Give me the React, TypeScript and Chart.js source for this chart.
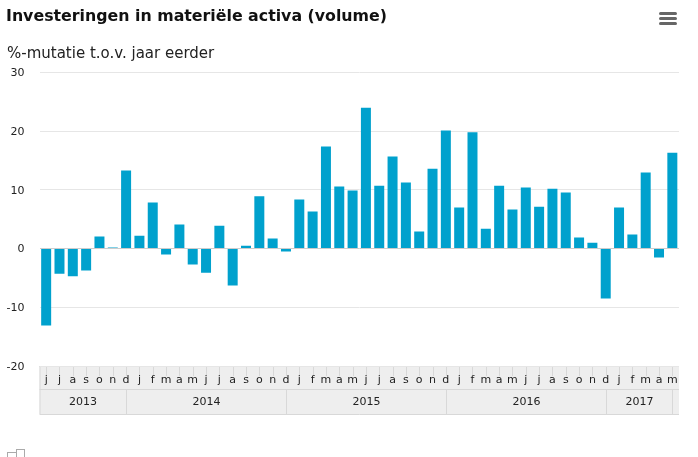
import React, { useEffect, useRef } from "react";
import { Chart, registerables } from "chart.js";

Chart.register(...registerables);

const monthLabels = [
  "j", "j", "a", "s", "o", "n", "d",
  "j", "f", "m", "a", "m", "j", "j", "a", "s", "o", "n", "d",
  "j", "f", "m", "a", "m", "j", "j", "a", "s", "o", "n", "d",
  "j", "f", "m", "a", "m", "j", "j", "a", "s", "o", "n", "d",
  "j", "f", "m", "a", "m",
];
const years = ["2013", "2014", "2015", "2016", "2017"];
const yearLengths = [7, 12, 12, 12, 5];
const mutation = [
  -13.1, -4.3, -4.7, -3.75, 2.05, 0.2, 13.3,
  2.2, 7.85, -1.0, 4.1, -2.7, -4.1, 3.9, -6.3, 0.5, 8.9, 1.7, -0.5,
  8.35, 6.3, 17.4, 10.6, 9.9, 24.0, 10.7, 15.7, 11.25, 2.9, 13.6, 20.1,
  7.0, 19.8, 3.4, 10.7, 6.65, 10.4, 7.15, 10.2, 9.55, 1.87, 1.0, -8.5,
  7.0, 2.4, 12.95, -1.5, 16.35,
];
const titleText = "Investeringen in materiële activa (volume)";
const subtitleText = "%-mutatie t.o.v. jaar eerder";

const BAND_LINE = "#d8d8d8";
const BAND_FILL = "#eeeeee";
const TEXT = "#222222";

const decor = {
  id: "decor",
  beforeDraw(chart: any) {
    const { ctx, chartArea, scales } = chart;
    const x = scales.x;
    const left = chartArea.left;
    const right = chartArea.right;
    const top = chartArea.bottom;
    const mid = top + 23;
    const bottom = top + 48;
    ctx.save();
    ctx.fillStyle = BAND_FILL;
    ctx.fillRect(left, top, right - left, bottom - top);
    ctx.strokeStyle = BAND_LINE;
    ctx.lineWidth = 1;
    ctx.beginPath();
    for (let i = 0; i < monthLabels.length; i++) {
      const px = Math.round(x.getPixelForValue(i)) + 0.5;
      ctx.moveTo(px, top);
      ctx.lineTo(px, top + 10);
    }
    ctx.moveTo(left, top + 0.5);
    ctx.lineTo(right, top + 0.5);
    ctx.moveTo(left, mid + 0.5);
    ctx.lineTo(right, mid + 0.5);
    ctx.moveTo(left, bottom + 0.5);
    ctx.lineTo(right, bottom + 0.5);
    ctx.moveTo(left + 0.5, top);
    ctx.lineTo(left + 0.5, bottom);
    ctx.stroke();
    ctx.restore();
  },
  afterDraw(chart: any) {
    const { ctx, chartArea, scales } = chart;
    const x = scales.x;
    const top = chartArea.bottom;
    const mid = top + 23;
    const bottom = top + 48;
    ctx.save();
    ctx.strokeStyle = BAND_LINE;
    ctx.lineWidth = 1;
    ctx.fillStyle = TEXT;
    ctx.font = "11px 'DejaVu Sans'";
    ctx.textAlign = "center";
    ctx.textBaseline = "middle";
    let idx = 0;
    let start = chartArea.left;
    years.forEach((year, i) => {
      idx += yearLengths[i];
      const end = Math.round(x.getPixelForValue(idx - 1)) + 0.5;
      ctx.beginPath();
      ctx.moveTo(end, mid);
      ctx.lineTo(end, bottom);
      ctx.stroke();
      ctx.fillText(year, (start + end) / 2, mid + 13);
      start = end;
    });

    ctx.textAlign = "left";
    ctx.textBaseline = "alphabetic";
    ctx.fillStyle = "#111111";
    ctx.font = "bold 15.8px 'DejaVu Sans'";
    ctx.fillText(titleText, 6, 21);
    ctx.fillStyle = "#222222";
    ctx.font = "15px 'DejaVu Sans'";
    ctx.fillText(subtitleText, 7, 58);

    ctx.fillStyle = "#666666";
    [12, 17, 22].forEach((y) => {
      ctx.beginPath();
      ctx.roundRect(659, y, 18, 3, 1.5);
      ctx.fill();
    });

    ctx.strokeStyle = "#aaaaaa";
    ctx.strokeRect(7.5, 452.5, 9, 7);
    ctx.strokeRect(16.5, 449.5, 8, 10);
    ctx.restore();
  },
};

export default function App() {
  const ref = useRef<HTMLCanvasElement>(null);
  useEffect(() => {
    const chart = new Chart(ref.current as HTMLCanvasElement, {
      type: "bar",
      data: {
        labels: monthLabels,
        datasets: [
          {
            data: mutation,
            backgroundColor: "#00a1cd",
            barPercentage: 0.75,
            categoryPercentage: 1,
          },
        ],
      },
      plugins: [decor],
      options: {
        animation: false,
        responsive: false,
        layout: { padding: { left: 0, right: 19, top: 72.5, bottom: 0 } },
        plugins: { legend: { display: false }, tooltip: { enabled: false } },
        scales: {
          x: {
            afterFit(scale: any) {
              scale.height = 91;
            },
            grid: { display: false },
            border: { display: false },
            ticks: {
              autoSkip: false,
              maxRotation: 0,
              padding: 0,
              color: TEXT,
              font: { family: "'DejaVu Sans'", size: 11 },
            },
          },
          y: {
            min: -20,
            max: 30,
            afterFit(scale: any) {
              scale.width = 39.5;
            },
            grid: {
              drawTicks: false,
              color: (c: any) => (c.tick.value === 0 ? "#cccccc" : "#e6e6e6"),
            },
            border: { display: false },
            ticks: {
              stepSize: 10,
              padding: 15,
              labelOffset: 1,
              color: TEXT,
              font: { family: "'DejaVu Sans'", size: 11 },
            },
          },
        },
      },
    } as any);
    return () => chart.destroy();
  }, []);
  return (
    <div style={{ position: "fixed", left: 0, top: 0, width: 698, height: 457, background: "#fff", overflow: "hidden" }}>
      <canvas ref={ref} width={698} height={457} style={{ display: "block" }} />
    </div>
  );
}
